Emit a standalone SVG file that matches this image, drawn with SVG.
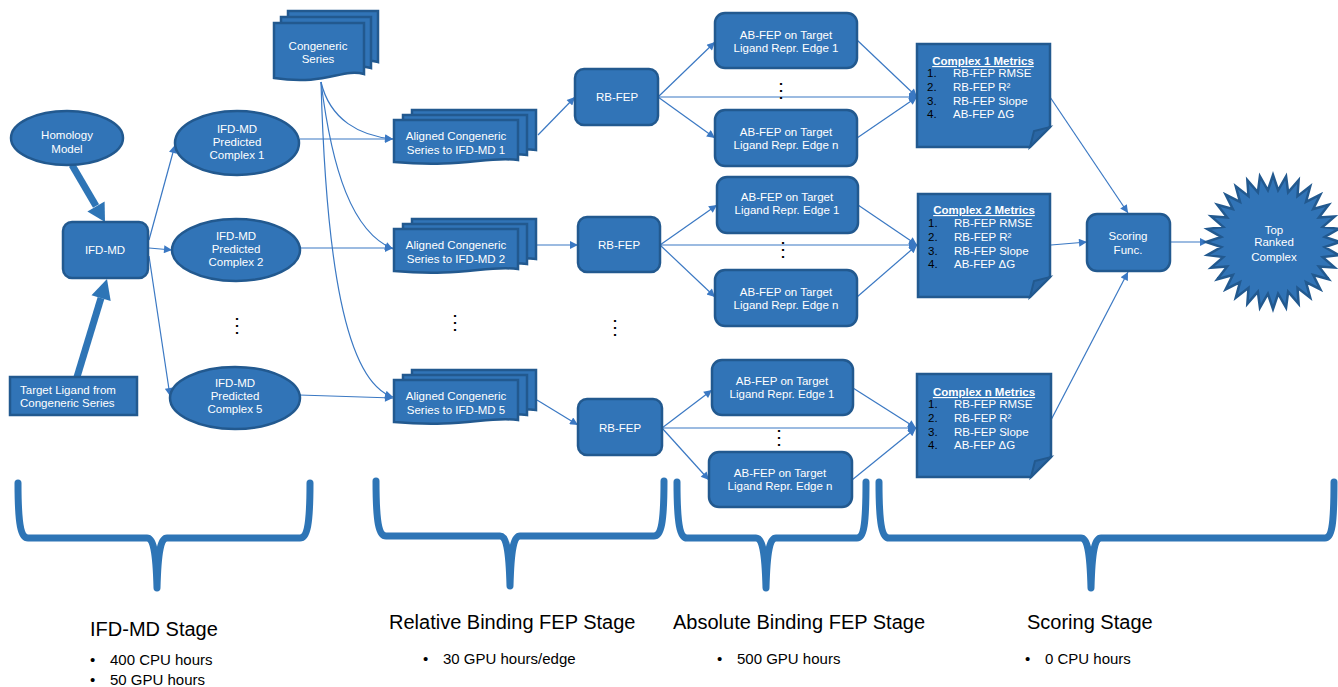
<svg xmlns="http://www.w3.org/2000/svg" width="1338" height="687" viewBox="0 0 1338 687">
<defs>
<style>
.n{fill:#3174B7;stroke:#22598F;stroke-width:2.5}
.f{fill:#2A66A4;stroke:#22598F;stroke-width:2}
.t{font-family:"Liberation Sans",Arial,sans-serif;font-size:11.5px;fill:#fff;text-anchor:middle}
.tl{font-family:"Liberation Sans",Arial,sans-serif;font-size:11.5px;fill:#fff}
.num{font-family:"Liberation Sans",Arial,sans-serif;font-size:11.5px;fill:#000}
.hd{font-family:"Liberation Sans",Arial,sans-serif;font-size:11.5px;font-weight:bold;fill:#fff;text-anchor:middle;text-decoration:underline}
.dot{font-family:"Liberation Sans",Arial,sans-serif;font-size:20px;fill:#000;text-anchor:middle}
.c{fill:none;stroke:#3A78C3;stroke-width:1.2}
.thick{fill:none;stroke:#2E75B6;stroke-width:7}
.brace{fill:none;stroke:#2E75B6;stroke-width:7;stroke-linecap:round;stroke-linejoin:round}
.st{font-family:"Liberation Sans",Arial,sans-serif;font-size:20px;fill:#000}
.bl{font-family:"Liberation Sans",Arial,sans-serif;font-size:15px;fill:#000}
</style>
<marker id="a" viewBox="0 0 10 10" refX="10" refY="5" markerWidth="10" markerHeight="8" markerUnits="userSpaceOnUse" orient="auto"><path d="M0,0 L10,5 L0,10 z" fill="#3A78C3"/></marker>
</defs>

<g id="connectors">
<line class="thick" x1="72" y1="165" x2="96" y2="206"/>
<polygon points="105,222 87.4,211.4 104.6,201.4" fill="#2E75B6"/>
<line class="thick" x1="77" y1="377" x2="101" y2="298"/>
<polygon points="107,279 110.7,301 91.5,295.2" fill="#2E75B6"/>
<path class="c" marker-end="url(#a)" d="M149,240 L175,145"/>
<path class="c" marker-end="url(#a)" d="M149,248 L172,250"/>
<path class="c" marker-end="url(#a)" d="M149,256 L170,396"/>
<path class="c" marker-end="url(#a)" d="M300,139 L393,139"/>
<path class="c" marker-end="url(#a)" d="M300,248 L393,248"/>
<path class="c" marker-end="url(#a)" d="M299,395 L393,398"/>
<path class="c" marker-end="url(#a)" d="M321,82 C330,120 360,136 393,139"/>
<path class="c" marker-end="url(#a)" d="M321,82 C332,170 352,232 393,249"/>
<path class="c" marker-end="url(#a)" d="M321,82 C326,260 345,382 393,397"/>
<path class="c" marker-end="url(#a)" d="M538,135 L575,97"/>
<path class="c" marker-end="url(#a)" d="M536,245 L578,245"/>
<path class="c" marker-end="url(#a)" d="M537,400 L578,425"/>
<path class="c" marker-end="url(#a)" d="M658,97 L715,42"/>
<path class="c" marker-end="url(#a)" d="M658,97 L715,138"/>
<path class="c" marker-end="url(#a)" d="M658,97 L917,97"/>
<path class="c" marker-end="url(#a)" d="M857,40 L917,97"/>
<path class="c" marker-end="url(#a)" d="M857,138 L917,97"/>
<path class="c" marker-end="url(#a)" d="M660,245 L717,205"/>
<path class="c" marker-end="url(#a)" d="M660,245 L715,297"/>
<path class="c" marker-end="url(#a)" d="M660,245 L917,245"/>
<path class="c" marker-end="url(#a)" d="M858,205 L917,245"/>
<path class="c" marker-end="url(#a)" d="M857,297 L917,245"/>
<path class="c" marker-end="url(#a)" d="M662,428 L712,390"/>
<path class="c" marker-end="url(#a)" d="M662,428 L709,480"/>
<path class="c" marker-end="url(#a)" d="M662,428 L916,428"/>
<path class="c" marker-end="url(#a)" d="M853,388 L916,428"/>
<path class="c" marker-end="url(#a)" d="M852,480 L916,428"/>
<path class="c" marker-end="url(#a)" d="M1050,97 L1128,213"/>
<path class="c" marker-end="url(#a)" d="M1051,245 L1087,242"/>
<path class="c" marker-end="url(#a)" d="M1051,420 L1128,272"/>
<path class="c" marker-end="url(#a)" d="M1170,242 L1208,242"/>
</g>

<g id="homology">
<ellipse class="n" cx="67" cy="138" rx="56" ry="27"/>
<text class="t" x="67" y="139">Homology</text>
<text class="t" x="67" y="153">Model</text>
</g>
<g id="ifdmd">
<rect class="n" x="63" y="222" width="85" height="56" rx="9"/>
<text class="t" x="105" y="254">IFD-MD</text>
</g>
<g id="target">
<rect class="n" x="10" y="377" width="127" height="38"/>
<text class="tl" x="20" y="394">Target Ligand from</text>
<text class="tl" x="20" y="407">Congeneric Series</text>
</g>

<g id="complex1">
<ellipse class="n" cx="237" cy="143" rx="62" ry="32"/>
<text class="t" x="237" y="133">IFD-MD</text>
<text class="t" x="237" y="146">Predicted</text>
<text class="t" x="237" y="159">Complex 1</text>
</g>
<g id="complex2">
<ellipse class="n" cx="236" cy="250" rx="64" ry="31"/>
<text class="t" x="236" y="240">IFD-MD</text>
<text class="t" x="236" y="253">Predicted</text>
<text class="t" x="236" y="266">Complex 2</text>
</g>
<g id="complex5">
<ellipse class="n" cx="235" cy="398" rx="65" ry="31"/>
<text class="t" x="235" y="387">IFD-MD</text>
<text class="t" x="235" y="400">Predicted</text>
<text class="t" x="235" y="413">Complex 5</text>
</g>
<text class="dot" x="237" y="332">⋮</text>

<g id="congeneric">
<path class="n" d="M288,11 H378 V62 C356,56 340,72 288,66 Z"/>
<path class="n" d="M281,17 H371 V68 C349,62 333,78 281,72 Z"/>
<path class="n" d="M274,23 H364 V74 C342,68 326,86 274,78 Z"/>
<text class="t" x="318" y="50">Congeneric</text>
<text class="t" x="318" y="63">Series</text>
</g>

<g id="aligned1">
<path class="n" d="M412,110 H536 V150 C505,146 480,158 412,152 Z"/>
<path class="n" d="M403,115 H527 V155 C496,151 471,163 403,157 Z"/>
<path class="n" d="M394,120 H518 V160 C487,156 462,168 394,162 Z"/>
<text class="t" x="456" y="140">Aligned Congeneric</text>
<text class="t" x="456" y="154">Series to IFD-MD 1</text>
</g>
<g id="aligned2">
<path class="n" d="M412,219 H536 V259 C505,255 480,267 412,261 Z"/>
<path class="n" d="M403,224 H527 V264 C496,260 471,272 403,266 Z"/>
<path class="n" d="M394,229 H518 V269 C487,265 462,277 394,271 Z"/>
<text class="t" x="456" y="249">Aligned Congeneric</text>
<text class="t" x="456" y="263">Series to IFD-MD 2</text>
</g>
<g id="aligned5">
<path class="n" d="M412,370 H536 V410 C505,406 480,418 412,412 Z"/>
<path class="n" d="M403,375 H527 V415 C496,411 471,423 403,417 Z"/>
<path class="n" d="M394,380 H518 V420 C487,416 462,428 394,422 Z"/>
<text class="t" x="456" y="400">Aligned Congeneric</text>
<text class="t" x="456" y="414">Series to IFD-MD 5</text>
</g>
<text class="dot" x="455" y="329">⋮</text>

<g id="rbfep1">
<rect class="n" x="575" y="69" width="83" height="56" rx="9"/>
<text class="t" x="617" y="101">RB-FEP</text>
</g>
<g id="rbfep2">
<rect class="n" x="578" y="217" width="82" height="55" rx="9"/>
<text class="t" x="619" y="249">RB-FEP</text>
</g>
<g id="rbfep3">
<rect class="n" x="578" y="399" width="84" height="56" rx="9"/>
<text class="t" x="620" y="432">RB-FEP</text>
</g>
<text class="dot" x="615" y="334">⋮</text>

<g id="ab1a">
<rect class="n" x="715" y="13" width="142" height="55" rx="10"/>
<text class="t" x="786" y="39">AB-FEP on Target</text>
<text class="t" x="786" y="52">Ligand Repr. Edge 1</text>
</g>
<g id="ab1n">
<rect class="n" x="715" y="110" width="142" height="56" rx="10"/>
<text class="t" x="786" y="136">AB-FEP on Target</text>
<text class="t" x="786" y="149">Ligand Repr. Edge n</text>
</g>
<text class="dot" x="781" y="97">⋮</text>
<g id="ab2a">
<rect class="n" x="717" y="177" width="141" height="56" rx="10"/>
<text class="t" x="787" y="201">AB-FEP on Target</text>
<text class="t" x="787" y="214">Ligand Repr. Edge 1</text>
</g>
<g id="ab2n">
<rect class="n" x="715" y="270" width="142" height="56" rx="10"/>
<text class="t" x="786" y="296">AB-FEP on Target</text>
<text class="t" x="786" y="309">Ligand Repr. Edge n</text>
</g>
<text class="dot" x="783" y="256">⋮</text>
<g id="ab3a">
<rect class="n" x="712" y="360" width="141" height="55" rx="10"/>
<text class="t" x="782" y="385">AB-FEP on Target</text>
<text class="t" x="782" y="398">Ligand Repr. Edge 1</text>
</g>
<g id="ab3n">
<rect class="n" x="709" y="452" width="143" height="55" rx="10"/>
<text class="t" x="780" y="477">AB-FEP on Target</text>
<text class="t" x="780" y="490">Ligand Repr. Edge n</text>
</g>
<text class="dot" x="779" y="444">⋮</text>

<g id="metrics1">
<path class="n" d="M917,44 H1050 V127 L1030,147 H917 Z"/>
<path class="f" d="M1030,147 L1034,131 L1050,127 Z"/>
<text class="hd" x="983" y="65">Complex 1 Metrics</text>
<text class="num" x="927" y="77">1.</text><text class="tl" x="953" y="77">RB-FEP RMSE</text>
<text class="num" x="927" y="91">2.</text><text class="tl" x="953" y="91">RB-FEP R²</text>
<text class="num" x="927" y="105">3.</text><text class="tl" x="953" y="105">RB-FEP Slope</text>
<text class="num" x="927" y="118">4.</text><text class="tl" x="953" y="118">AB-FEP ΔG</text>
</g>
<g id="metrics2">
<path class="n" d="M918,194 H1050 V277 L1030,297 H918 Z"/>
<path class="f" d="M1030,297 L1034,281 L1050,277 Z"/>
<text class="hd" x="984" y="214">Complex 2 Metrics</text>
<text class="num" x="928" y="227">1.</text><text class="tl" x="954" y="227">RB-FEP RMSE</text>
<text class="num" x="928" y="241">2.</text><text class="tl" x="954" y="241">RB-FEP R²</text>
<text class="num" x="928" y="255">3.</text><text class="tl" x="954" y="255">RB-FEP Slope</text>
<text class="num" x="928" y="268">4.</text><text class="tl" x="954" y="268">AB-FEP ΔG</text>
</g>
<g id="metricsn">
<path class="n" d="M917,374 H1051 V457 L1031,477 H917 Z"/>
<path class="f" d="M1031,477 L1035,461 L1051,457 Z"/>
<text class="hd" x="984" y="396">Complex n Metrics</text>
<text class="num" x="928" y="408">1.</text><text class="tl" x="954" y="408">RB-FEP RMSE</text>
<text class="num" x="928" y="422">2.</text><text class="tl" x="954" y="422">RB-FEP R²</text>
<text class="num" x="928" y="436">3.</text><text class="tl" x="954" y="436">RB-FEP Slope</text>
<text class="num" x="928" y="449">4.</text><text class="tl" x="954" y="449">AB-FEP ΔG</text>
</g>

<g id="scoring">
<rect class="n" x="1087" y="214" width="83" height="57" rx="10"/>
<text class="t" x="1128" y="240">Scoring</text>
<text class="t" x="1128" y="254">Func.</text>
</g>

<g id="top">
<polygon class="n" transform="translate(1273,242)" points="0,-67 5.10,-51.75 13.07,-65.71 15.10,-49.76 25.64,-61.90 24.51,-45.86 37.22,-55.71 32.99,-40.20 47.38,-47.38 40.20,-32.99 55.71,-37.22 45.86,-24.51 61.90,-25.64 49.76,-15.10 65.71,-13.07 51.75,-5.10 67,0 51.75,5.10 65.71,13.07 49.76,15.10 61.90,25.64 45.86,24.51 55.71,37.22 40.20,32.99 47.38,47.38 32.99,40.20 37.22,55.71 24.51,45.86 25.64,61.90 15.10,49.76 13.07,65.71 5.10,51.75 0,67 -5.10,51.75 -13.07,65.71 -15.10,49.76 -25.64,61.90 -24.51,45.86 -37.22,55.71 -32.99,40.20 -47.38,47.38 -40.20,32.99 -55.71,37.22 -45.86,24.51 -61.90,25.64 -49.76,15.10 -65.71,13.07 -51.75,5.10 -67,0 -51.75,-5.10 -65.71,-13.07 -49.76,-15.10 -61.90,-25.64 -45.86,-24.51 -55.71,-37.22 -40.20,-32.99 -47.38,-47.38 -32.99,-40.20 -37.22,-55.71 -24.51,-45.86 -25.64,-61.90 -15.10,-49.76 -13.07,-65.71 -5.10,-51.75"/>
<text class="t" x="1274" y="234">Top</text>
<text class="t" x="1274" y="246">Ranked</text>
<text class="t" x="1274" y="261">Complex</text>
</g>

<g id="stages">
<path class="brace" d="M18,483 C18,525 21,538 28,538 H147 C153,538 156,550 157,588 C158,550 161,538 167,538 H300 C307,538 310,525 310,483"/>
<path class="brace" d="M376,481 C376,523 379,536 386,536 H500 C506,536 509,548 510,586 C511,548 514,536 520,536 H654 C661,536 664,523 664,481"/>
<path class="brace" d="M677,482 C677,524 680,538 687,538 H756 C762,538 765,550 766,588 C767,550 770,538 776,538 H857 C864,538 866,524 866,482"/>
<path class="brace" d="M879,482 C879,524 882,538 889,538 H1081 C1087,538 1090,550 1091,588 C1092,550 1095,538 1101,538 H1325 C1332,538 1334,524 1334,482"/>
<text class="st" x="90" y="636">IFD-MD Stage</text>
<text class="bl" x="90" y="665">•</text><text class="bl" x="110" y="665">400 CPU hours</text>
<text class="bl" x="90" y="685">•</text><text class="bl" x="110" y="685">50 GPU hours</text>
<text class="st" x="389" y="629">Relative Binding FEP Stage</text>
<text class="bl" x="423" y="664">•</text><text class="bl" x="443" y="664">30 GPU hours/edge</text>
<text class="st" x="673" y="629">Absolute Binding FEP Stage</text>
<text class="bl" x="717" y="664">•</text><text class="bl" x="737" y="664">500 GPU hours</text>
<text class="st" x="1027" y="629">Scoring Stage</text>
<text class="bl" x="1025" y="664">•</text><text class="bl" x="1045" y="664">0 CPU hours</text>
</g>
</svg>
